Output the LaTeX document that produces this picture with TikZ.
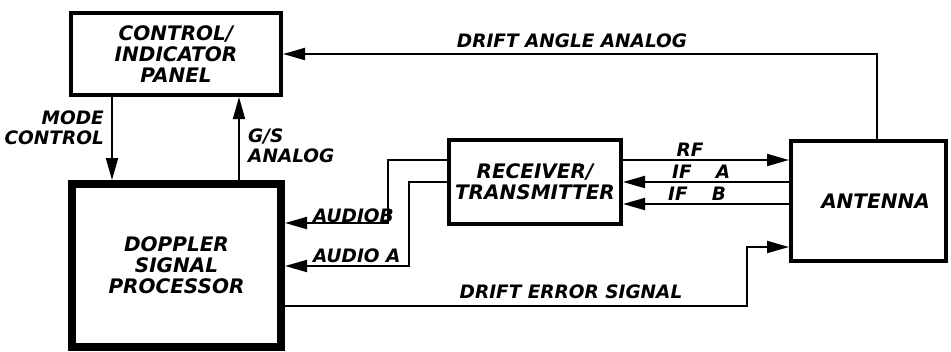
\documentclass[tikz,border=0pt]{standalone}
\usepackage{fontspec}
\setmainfont{DejaVu Sans}
\usepackage{tikz}
\usetikzlibrary{arrows.meta,positioning,calc}

\begin{document}
\begin{tikzpicture}[x=1pt, y=-1pt, >={Triangle[length=22pt,width=12pt]}, font=\fontsize{18.5}{20.5}\selectfont\bfseries\itshape]
        \tikzstyle{block} = [rectangle, draw, line width=4pt, align=center, inner sep=0pt, font=\fontsize{20}{21}\selectfont\bfseries\itshape]
        \tikzstyle{heavy} = [block, line width=8pt]
        \tikzstyle{line} = [draw, ->, line width=1.8pt]
        \tikzstyle{lbl} = [inner sep=0pt, align=center]

        \useasboundingbox (0,0) rectangle (951,351);

        \node [block, minimum width=210, minimum height=82] (ctrl) at (176,54) {CONTROL/\\INDICATOR\\PANEL};
        \node [heavy, minimum width=209, minimum height=163] (dsp) at (176.5,265.5) {DOPPLER\\SIGNAL\\PROCESSOR};
        \node [block, minimum width=172, minimum height=84] (rt) at (535,182) {RECEIVER/\\TRANSMITTER};
        \node [block, minimum width=155, minimum height=120] (ant) at (868.5,201) {\hspace*{14pt}ANTENNA};

        \coordinate (mc) at (112,0);
        \coordinate (gs) at (239,0);
        \coordinate (da) at (877,0);
        \coordinate (ab) at (388,223);
        \coordinate (aa) at (409,266);
        \coordinate (de) at (747,306);

        \path [line] (mc |- ctrl.south) -- (mc |- dsp.north);
        \path [line] (gs |- dsp.north) -- (gs |- ctrl.south);
        \path [line] (da |- ant.north) |- (ctrl.east);
        \path [line] ([yshift=22pt]rt.east) -- ([yshift=22pt]rt.east -| ant.west);
        \path [line] (ant.west |- rt.east) -- (rt.east);
        \path [line] ([yshift=-22pt]rt.east -| ant.west) -- ([yshift=-22pt]rt.east);
        \path [line] ([yshift=22pt]rt.west) -| (ab) -- (ab -| dsp.east);
        \path [line] (rt.west) -| (aa) -- (aa -| dsp.east);
        % drift error goes right, then up into the antenna
        \path [line] (de -| dsp.east) -- (de) |- ([yshift=-46pt]ant.west);

        \node [lbl, anchor=east, align=right] (mclbl) at (104,128) {MODE\\CONTROL};
        \node [lbl, anchor=west, align=left] (gslbl) at (248,146) {G/S\\ANALOG};
        \node [lbl] (dalbl) at (572,41) {DRIFT ANGLE ANALOG};
        \node [lbl] (rflbl) at (690,150) {RF};
        \node [lbl, anchor=west] (ifalbl) at (672,172) {IF\hspace{1.3em}A};
        \node [lbl, anchor=west] (ifblbl) at (668,194) {IF\hspace{1.3em}B};
        \node [lbl, anchor=west] (ablbl) at (313,216) {AUDIOB};
        \node [lbl, anchor=west] (aalbl) at (313,256) {AUDIO A};
        \node [lbl] (delbl) at (571,292) {DRIFT ERROR SIGNAL};
\end{tikzpicture}
\end{document}
